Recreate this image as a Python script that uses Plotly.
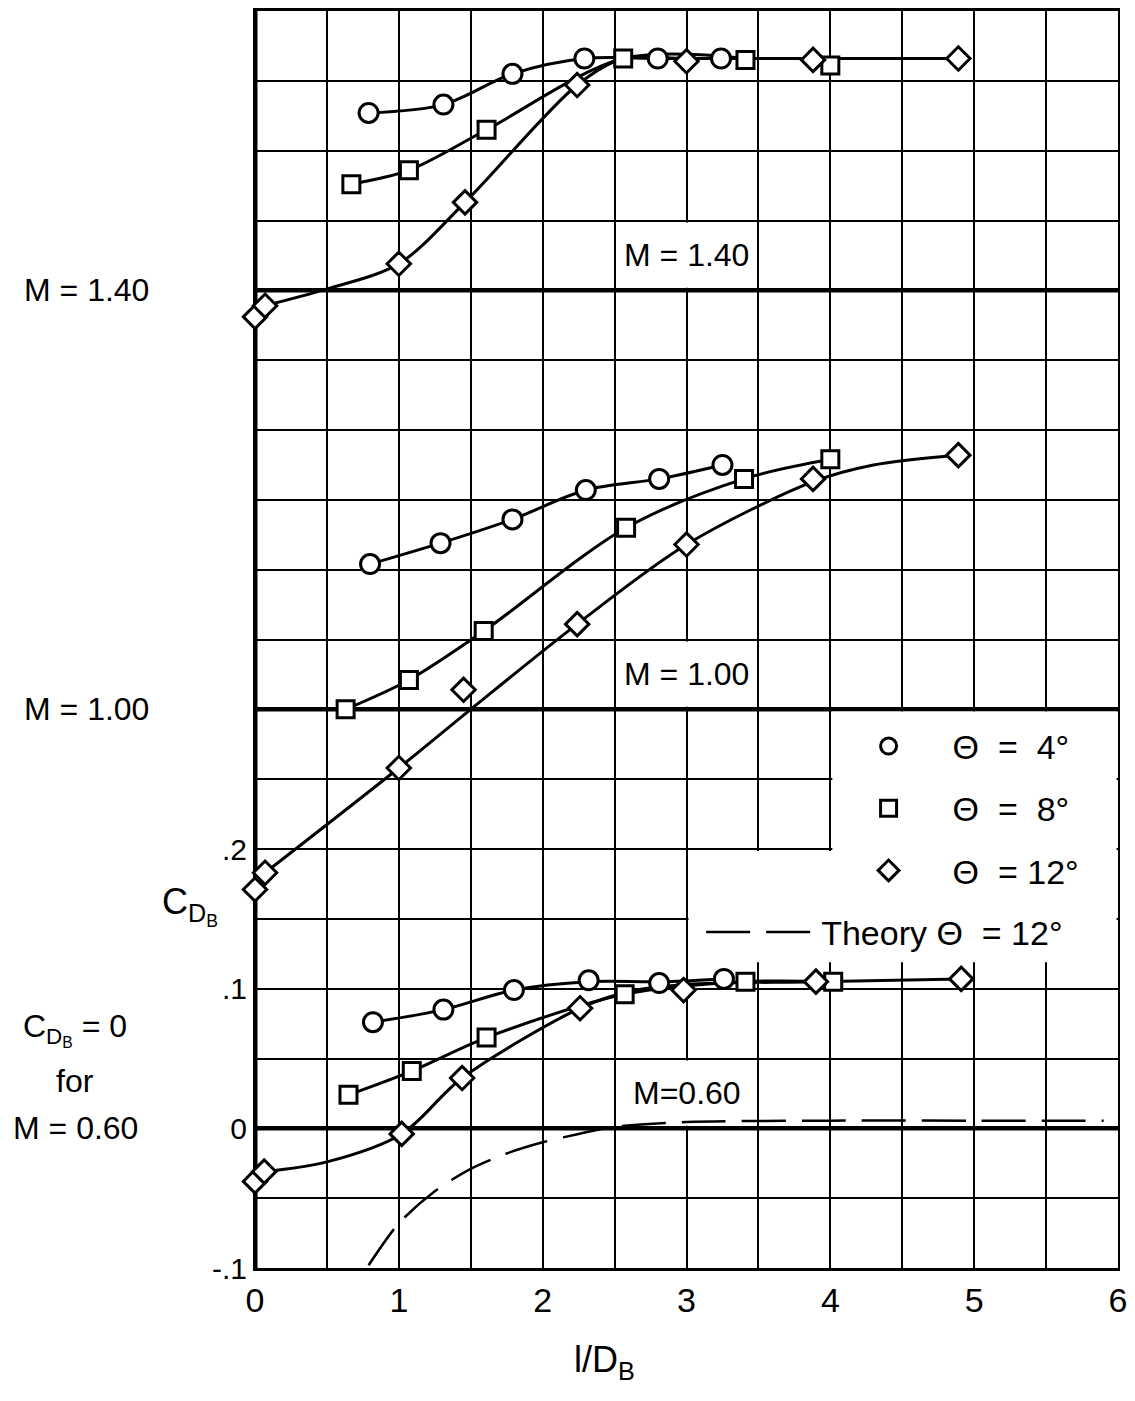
import plotly.graph_objects as go

FONT = "Liberation Sans, Arial, sans-serif"

# Each Mach number is plotted on its own shifted datum (C_DB = 0 lines)
offset_m060 = 0.0
offset_m100 = 0.3
offset_m140 = 0.6

# ---------------- M = 1.40 ----------------
m140_t4_x = [0.79, 1.31, 1.79, 2.29, 2.80, 3.24]
m140_t4_c = [0.127, 0.133, 0.155, 0.166, 0.166, 0.166]
m140_t8_x = [0.67, 1.07, 1.61, 2.56, 3.41, 4.00]
m140_t8_c = [0.076, 0.086, 0.115, 0.166, 0.165, 0.161]
m140_t12_x = [0.0, 0.07, 1.0, 1.46, 2.24, 3.0, 3.88, 4.89]
m140_t12_c = [-0.019, -0.011, 0.019, 0.063, 0.147, 0.164, 0.165, 0.166]
# faired curves
m140_t4_fx = [0.79, 1.31, 1.79, 2.29, 2.80, 3.24]
m140_t4_fc = [0.127, 0.133, 0.155, 0.166, 0.166, 0.166]
m140_t8_fx = [0.67, 1.07, 1.61, 2.56, 3.41]
m140_t8_fc = [0.076, 0.086, 0.115, 0.166, 0.166]
m140_t12_fx = [0.07, 0.5, 1.0, 1.46, 2.24, 2.56, 3.0, 3.88, 4.89]
m140_t12_fc = [-0.011, 0.001, 0.019, 0.063, 0.147, 0.166, 0.166, 0.166, 0.166]

# ---------------- M = 1.00 ----------------
m100_t4_x = [0.80, 1.29, 1.79, 2.30, 2.81, 3.25]
m100_t4_c = [0.104, 0.119, 0.136, 0.157, 0.165, 0.175]
m100_t8_x = [0.63, 1.07, 1.59, 2.58, 3.40, 4.00]
m100_t8_c = [0.0, 0.021, 0.056, 0.130, 0.165, 0.179]
m100_t12_x = [0.0, 0.07, 1.0, 1.45, 2.24, 3.0, 3.88, 4.89]
m100_t12_c = [-0.129, -0.117, -0.042, 0.014, 0.061, 0.118, 0.165, 0.182]
m100_t4_fx = [0.80, 1.29, 1.79, 2.30, 2.81, 3.25]
m100_t4_fc = [0.104, 0.119, 0.136, 0.157, 0.165, 0.175]
m100_t8_fx = [0.63, 1.07, 1.59, 2.58, 3.40, 4.00]
m100_t8_fc = [0.0, 0.021, 0.056, 0.130, 0.165, 0.179]
m100_t12_fx = [0.07, 1.0, 1.5, 2.24, 3.0, 3.88, 4.3, 4.89]
m100_t12_fc = [-0.117, -0.042, 0.0, 0.061, 0.118, 0.163, 0.175, 0.182]

# ---------------- M = 0.60 ----------------
m060_t4_x = [0.82, 1.31, 1.80, 2.32, 2.81, 3.26]
m060_t4_c = [0.076, 0.085, 0.099, 0.106, 0.104, 0.107]
m060_t8_x = [0.65, 1.09, 1.61, 2.57, 3.41, 4.02]
m060_t8_c = [0.024, 0.041, 0.065, 0.096, 0.105, 0.105]
m060_t12_x = [0.0, 0.064, 1.02, 1.44, 2.26, 2.98, 3.90, 4.91]
m060_t12_c = [-0.038, -0.031, -0.004, 0.036, 0.086, 0.099, 0.105, 0.107]
m060_t4_fx = [0.82, 1.31, 1.80, 2.32, 2.81, 3.26]
m060_t4_fc = [0.076, 0.085, 0.099, 0.105, 0.105, 0.107]
m060_t8_fx = [0.65, 1.09, 1.61, 2.57, 3.41, 4.02]
m060_t8_fc = [0.024, 0.041, 0.065, 0.096, 0.105, 0.105]
m060_t12_fx = [0.064, 0.5, 1.02, 1.44, 2.26, 2.6, 3.0, 3.9, 4.91]
m060_t12_fc = [-0.031, -0.024, -0.004, 0.036, 0.086, 0.098, 0.103, 0.105, 0.107]

# Theory, theta = 12 deg, M = 0.60
theory_x = [0.79, 1.0, 1.25, 1.5, 1.75, 2.0, 2.25, 2.5, 3.0, 4.0, 5.0, 5.9]
theory_c = [-0.098, -0.068, -0.045, -0.029, -0.018, -0.010, -0.004, 0.001, 0.0045, 0.0055, 0.0055, 0.0055]

# axes / labels
x_tickvals = [0, 1, 2, 3, 4, 5, 6]
x_ticktext = ["0", "1", "2", "3", "4", "5", "6"]
y_tickvals = [-0.1, 0, 0.1, 0.2]
y_ticktext = ["-.1", "0", ".1", ".2"]
NB = "\u00a0"
theta_names = ["Θ" + NB * 2 + "=" + NB * 2 + "4°",
               "Θ" + NB * 2 + "=" + NB * 2 + "8°",
               "Θ" + NB * 2 + "=" + NB + "12°"]
theory_name = "Theory" + NB + "Θ" + NB * 2 + "=" + NB + "12°"
theta_symbols = ["circle", "square", "diamond"]
theta_sizes = [19, 17, 18]
mach_labels = ["M = 1.40", "M = 1.00", "M=0.60"]
mach_offsets = [offset_m140, offset_m100, offset_m060]


def shift(vals, off):
    return [v + off for v in vals]


series = [
    [(m140_t4_x, m140_t4_c, m140_t4_fx, m140_t4_fc),
     (m140_t8_x, m140_t8_c, m140_t8_fx, m140_t8_fc),
     (m140_t12_x, m140_t12_c, m140_t12_fx, m140_t12_fc)],
    [(m100_t4_x, m100_t4_c, m100_t4_fx, m100_t4_fc),
     (m100_t8_x, m100_t8_c, m100_t8_fx, m100_t8_fc),
     (m100_t12_x, m100_t12_c, m100_t12_fx, m100_t12_fc)],
    [(m060_t4_x, m060_t4_c, m060_t4_fx, m060_t4_fc),
     (m060_t8_x, m060_t8_c, m060_t8_fx, m060_t8_fc),
     (m060_t12_x, m060_t12_c, m060_t12_fx, m060_t12_fc)],
]

fig = go.Figure()

# faired curves first
for mi, group in enumerate(series):
    off = mach_offsets[mi]
    for ti, (px, pc, fx, fc) in enumerate(group):
        fig.add_trace(go.Scatter(
            x=fx, y=shift(fc, off), mode="lines",
            line=dict(color="black", width=3, shape="spline", smoothing=0.9),
            showlegend=False, hoverinfo="skip"))

# theory curve
fig.add_trace(go.Scatter(
    x=theory_x, y=shift(theory_c, offset_m060), mode="lines",
    name=theory_name, legend="legend2",
    line=dict(color="black", width=2.5, dash="44px,16px", shape="spline", smoothing=0.8),
    showlegend=True, hoverinfo="skip"))

# data points
for mi, group in enumerate(series):
    off = mach_offsets[mi]
    for ti, (px, pc, fx, fc) in enumerate(group):
        fig.add_trace(go.Scatter(
            x=px, y=shift(pc, off), mode="markers",
            name=theta_names[ti], legendgroup=theta_names[ti],
            showlegend=(mi == 0), legend="legend",
            cliponaxis=False,
            marker=dict(symbol=theta_symbols[ti], size=theta_sizes[ti], color="white",
                        line=dict(color="black", width=3))))

shapes = []
# blank (grid-free) legend area
shapes.append(dict(type="path", xref="x", yref="y", layer="between",
                   path="M 4.014,0.2985 L 5.99,0.2985 L 5.99,0.119 L 3.014,0.119 "
                        "L 3.014,0.1985 L 4.014,0.1985 Z",
                   fillcolor="white", line=dict(width=0)))
# white boxes behind the in-plot Mach labels
for off in mach_offsets:
    shapes.append(dict(type="rect", xref="x", yref="y", layer="between",
                       x0=2.514, x1=3.486, y0=off + 0.0018, y1=off + 0.0485,
                       fillcolor="white", line=dict(width=0)))
# heavy datum lines
for off in mach_offsets:
    shapes.append(dict(type="line", xref="paper", yref="y", layer="between",
                       x0=0, x1=1, y0=off, y1=off,
                       line=dict(color="black", width=4.5)))
# heavy left axis
shapes.append(dict(type="line", xref="x", yref="paper", layer="between",
                   x0=0, x1=0, y0=0, y1=1, line=dict(color="black", width=5)))

annotations = []
for lab, off in zip(mach_labels, mach_offsets):
    annotations.append(dict(x=3.0, y=off + 0.025, xref="x", yref="y", text=lab,
                            xanchor="center", yanchor="middle",
                            showarrow=False, font=dict(size=32)))
# labels in the left margin (paper x, data y)
left_labels = [
    (-0.195, offset_m140, "M = 1.40", 32),
    (-0.195, offset_m100, "M = 1.00", 32),
    (-0.208, 0.071, "C<sub>D<sub>B</sub></sub> = 0", 32),
    (-0.208, 0.034, "for", 32),
    (-0.208, 0.0, "M = 0.60", 32),
    (-0.075, 0.159, "C<sub>D<sub>B</sub></sub>", 36),
]
for lx, ly, txt, sz in left_labels:
    annotations.append(dict(x=lx, y=ly, xref="paper", yref="y", text=txt,
                            xanchor="center", yanchor="middle",
                            showarrow=False, font=dict(size=sz)))
annotations.append(dict(x=0.405, y=-0.075, xref="paper", yref="paper",
                        text="l/D<sub>B</sub>", xanchor="center", yanchor="middle",
                        showarrow=False, font=dict(size=36)))

fig.update_layout(
    width=1135, height=1401,
    margin=dict(l=255, r=15, t=8, b=133, pad=0),
    paper_bgcolor="white", plot_bgcolor="white",
    font=dict(family=FONT, size=32, color="black"),
    xaxis=dict(range=[0, 6], tickmode="array", tickvals=x_tickvals, ticktext=x_ticktext,
               showgrid=True, gridcolor="black", gridwidth=2,
               minor=dict(dtick=0.5, tick0=0, showgrid=True, gridcolor="black",
                          gridwidth=2, ticks=""),
               showline=True, linecolor="black", linewidth=3, mirror=True,
               zeroline=False, ticks="", tickfont=dict(size=34), layer="below traces"),
    yaxis=dict(range=[-0.1, 0.8], tickmode="array", tickvals=y_tickvals, ticktext=y_ticktext,
               showgrid=True, gridcolor="black", gridwidth=2,
               minor=dict(dtick=0.05, tick0=0, showgrid=True, gridcolor="black",
                          gridwidth=2, ticks=""),
               showline=True, linecolor="black", linewidth=2, mirror=True,
               zeroline=False, ticks="", tickfont=dict(size=30), layer="below traces"),
    legend=dict(x=0.66, y=0.438, xanchor="left", yanchor="top",
                font=dict(size=34), itemwidth=118, tracegroupgap=15,
                bgcolor="rgba(0,0,0,0)", borderwidth=0),
    legend2=dict(x=0.517, y=0.290, xanchor="left", yanchor="top",
                 font=dict(size=34), itemwidth=110,
                 bgcolor="rgba(0,0,0,0)", borderwidth=0),
    shapes=shapes,
    annotations=annotations,
)

fig.write_html("out.html")
